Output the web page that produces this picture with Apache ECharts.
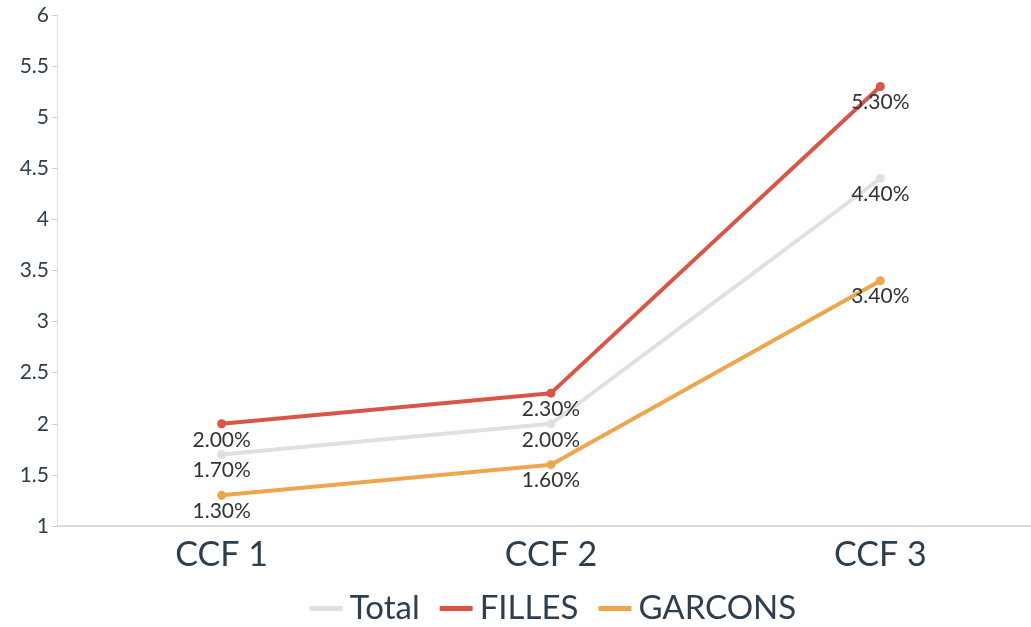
<!DOCTYPE html>
<html>
<head>
<meta charset="utf-8">
<script src="https://cdn.jsdelivr.net/npm/echarts@6/dist/echarts.min.js"></script>
<style>
html,body{margin:0;padding:0;background:#fff;overflow:hidden;width:1031px;height:627px;}
#chart{width:1106px;height:627px;}
</style>
</head>
<body>
<div id="chart"></div>
<script>
const categories = ['CCF 1', 'CCF 2', 'CCF 3'];
const totalValues = [1.7, 2.0, 4.4];
const fillesValues = [2.0, 2.3, 5.3];
const garconsValues = [1.3, 1.6, 3.4];
const seriesNames = ['Total', 'FILLES', 'GARCONS'];
const seriesColors = ['#dfe0e6', '#d95545', '#eea64d'];

const chart = echarts.init(document.getElementById('chart'));
const font = 'Lato, "Noto Sans", sans-serif';
function mk(name, data, color) {
  return {
    name: name,
    type: 'line',
    data: data,
    color: color,
    symbol: 'circle',
    symbolSize: 9,
    lineStyle: { width: 4, color: color },
    itemStyle: { color: color },
    label: {
      show: true,
      position: 'bottom',
      distance: 1,
      fontFamily: font,
      fontSize: 21,
      color: '#333',
      formatter: p => p.value.toFixed(2) + '%'
    },
    animation: false
  };
}
chart.setOption({
  animation: false,
  grid: { left: 57, top: 15, right: 61, bottom: 101, containLabel: false },
  legend: {
    bottom: -3,
    left: 'center',
    itemWidth: 33,
    itemHeight: 5,
    itemGap: 20,
    icon: 'rect',
    textStyle: { fontFamily: font, fontSize: 33, color: '#2c3e50', padding: [0, 0, 0, 2] },
    data: seriesNames
  },
  xAxis: {
    type: 'category',
    data: categories,
    boundaryGap: true,
    axisLine: { lineStyle: { color: '#dcdcdc', width: 2 } },
    axisTick: { alignWithLabel: true, length: 5, lineStyle: { color: '#e6e6e6' } },
    axisLabel: { fontFamily: font, fontSize: 34, color: '#2c3e50', margin: 12 }
  },
  yAxis: {
    type: 'value',
    min: 1,
    max: 6,
    interval: 0.5,
    axisLine: { show: true, lineStyle: { color: '#e0e0e0', width: 1 } },
    axisTick: { show: true, length: 5, lineStyle: { color: '#cccccc' } },
    splitLine: { show: false },
    axisLabel: { fontFamily: font, fontSize: 21, color: '#2c3e50', margin: 8 }
  },
  series: [
    mk(seriesNames[0], totalValues, seriesColors[0]),
    mk(seriesNames[1], fillesValues, seriesColors[1]),
    mk(seriesNames[2], garconsValues, seriesColors[2])
  ]
});
</script>
</body>
</html>
